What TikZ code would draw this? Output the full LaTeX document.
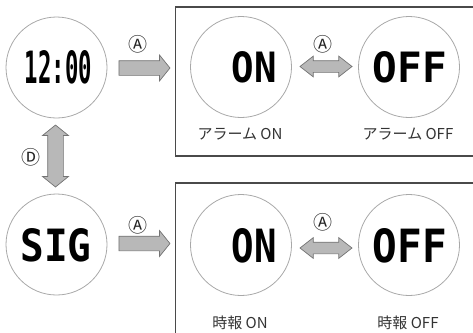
\documentclass[tikz,border=0pt]{standalone}
\usepackage{fontspec}
\usetikzlibrary{shapes.arrows}
\newfontfamily\jpfont{Noto Sans CJK JP}
\newfontfamily\lcdfont{DejaVu Sans Mono}[BoldFont={DejaVu Sans Mono Bold}]
\definecolor{ringgray}{HTML}{A8A8A8}
\definecolor{arrowfill}{HTML}{B8B8B8}
\definecolor{arrowline}{HTML}{737373}
\definecolor{boxline}{HTML}{4A4A4A}
\tikzset{
  dial/.style={circle, draw=ringgray, line width=0.8pt, minimum size=101pt, inner sep=0pt},
  lcd/.style={inner sep=0pt, font=\lcdfont\bfseries},
  rarrow/.style={single arrow, draw=arrowline, fill=arrowfill, line width=0.7pt,
    inner xsep=0pt, inner ysep=7pt,
    minimum height=51pt, single arrow head extend=5.5pt, single arrow tip angle=102},
  darrow/.style={double arrow, draw=arrowline, fill=arrowfill, line width=0.7pt,
    inner xsep=0pt, inner ysep=5.5pt,
    minimum height=52pt, double arrow head extend=4.5pt, double arrow tip angle=76},
  varrow/.style={double arrow, draw=arrowline, fill=arrowfill, line width=0.7pt,
    inner xsep=0pt, inner ysep=7.5pt, rotate=90,
    minimum height=62pt, double arrow head extend=5pt, double arrow tip angle=102},
  circ/.style={inner sep=0pt, font=\jpfont\fontsize{19}{19}\selectfont, text=black!85},
  jlabel/.style={inner sep=0pt, font=\jpfont\fontsize{15}{15}\selectfont, text=black!80},
  frame/.style={draw=boxline, line width=1.1pt}
}
\begin{document}
\begin{tikzpicture}[x=1pt, y=-1pt]
\useasboundingbox (0,0) rectangle (473,332);
\clip (0,0) rectangle (473,332);
% frames
\draw[frame] (480,7) -- (175.5,7) -- (175.5,156) -- (480,156);
\draw[frame] (480,183) -- (175.5,183) -- (175.5,340);
% dials
\node[dial] (clock) at (56.5,67.5) {};
\node[dial] (sig) at (56.5,244.5) {};
\node[dial] (alon) at (241,67) {};
\node[dial] (aloff) at (409,67) {};
\node[dial] (sgon) at (241,245) {};
\node[dial] (sgoff) at (409,245) {};
% lcd texts
\node[lcd] (tclock) at (58.5,67.5) {\resizebox{67pt}{33pt}{12:00}};
\node[lcd] (tsig) at (56,245) {\resizebox{71pt}{33pt}{SIG}};
\node[lcd] (talon) at (254,67.5) {\resizebox{45pt}{31pt}{ON}};
\node[lcd] (taloff) at (410,67.5) {\resizebox{74pt}{31pt}{OFF}};
\node[lcd] (tsgon) at (254,245.5) {\resizebox{45pt}{34pt}{ON}};
\node[lcd] (tsgoff) at (410,245.5) {\resizebox{74pt}{34pt}{OFF}};
% arrows
\node[rarrow] (a1) at (141.5,68) {};
\node[rarrow] (a2) at (141.5,243.5) {};
\node[darrow] (d1) at (326,66.5) {};
\node[darrow] (d2) at (326,248) {};
\node[varrow] (v1) at (55.5,156) {};
% button labels
\node[circ] at (138,44) {Ⓐ};
\node[circ] at (323,44) {Ⓐ};
\node[circ] at (138,225) {Ⓐ};
\node[circ] at (323,222) {Ⓐ};
\node[circ] at (31,157) {Ⓓ};
% captions
\node[jlabel] at (240,134.5) {アラーム ON};
\node[jlabel] at (408,134.5) {アラーム OFF};
\node[jlabel] at (240,322.5) {時報 ON};
\node[jlabel] at (408,322.5) {時報 OFF};
\end{tikzpicture}
\end{document}
